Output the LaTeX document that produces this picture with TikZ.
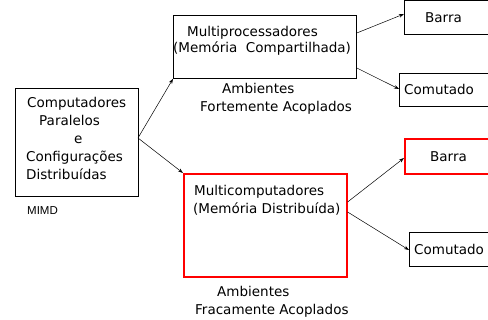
\documentclass[tikz,border=0pt]{standalone}
\usepackage{fontspec}
\setmainfont{DejaVu Sans}
\newfontfamily\arialfont{Liberation Sans}
\usetikzlibrary{arrows.meta}
\begin{document}
\begin{tikzpicture}[x=1pt,y=-1pt,
  box/.style={draw=black,line width=0.8pt,inner sep=0pt,anchor=north west},
  redbox/.style={draw=red,line width=1.6pt,inner sep=0pt,anchor=north west},
  txt/.style={font=\fontsize{13.5}{15}\selectfont,anchor=base west,inner sep=0pt},
  conn/.style={line width=0.5pt,-{Stealth[length=5pt,width=3.5pt]}}]
\useasboundingbox (0,0) rectangle (488,320);
% boxes
\node[box,minimum width=123pt,minimum height=108pt] (pc) at (15,88) {};
\node[box,minimum width=183pt,minimum height=63pt] (mp) at (173,15) {};
\node[redbox,minimum width=163pt,minimum height=103pt] (mc) at (183,173) {};
\node[box,minimum width=86pt,minimum height=34pt] (b1) at (404,0) {};
\node[box,minimum width=90pt,minimum height=33pt] (c1) at (399,73) {};
\node[redbox,minimum width=86pt,minimum height=35pt] (b2) at (404,138) {};
\node[box,minimum width=81pt,minimum height=34pt] (c2) at (409,232) {};
% texts
\node[txt] (t1) at (27,108) {Computadores};
\node[txt] (t2) at (39,126) {Paralelos};
\node[txt] (t3) at (74,144) {e};
\node[txt] (t4) at (26,162) {Configurações};
\node[txt] (t5) at (26,180) {Distribuídas};
\node[anchor=base west,inner sep=0pt,font=\arialfont\fontsize{11.5}{13}\selectfont] (mimd) at (27,215) {MIMD};
\node[txt] (t6) at (187,37) {Multiprocessadores};
\node[txt] (t7) at (173,53) {(Memória\ \ Compartilhada)};
\node[txt] (t8) at (222,94) {Ambientes};
\node[txt] (t9) at (200,112) {Fortemente Acoplados};
\node[txt] (t10) at (194,196) {Multicomputadores};
\node[txt] (t11) at (193,214) {(Memória Distribuída)};
\node[txt] (t12) at (217,297) {Ambientes};
\node[txt] (t13) at (195,315) {Fracamente Acoplados};
\node[txt] (t14) at (425,23) {Barra};
\node[txt] (t15) at (404,95) {Comutado};
\node[txt] (t16) at (430,162) {Barra};
\node[txt] (t17) at (414,255) {Comutado};
% connectors
\coordinate (o) at (138,138);
\draw[conn] (o) -- (mp.south west);
\draw[conn] (o) -- (mc.north west);
\draw[conn] ([yshift=-18pt]mp.north east) -- ([yshift=-14pt]b1.north west);
\draw[conn] ([yshift=-53pt]mp.north east) -- ([yshift=-16pt]c1.north west);
\draw[conn] ([yshift=-29pt]mc.north east) -- ([yshift=-20pt]b2.north west);
\draw[conn] ([yshift=-39pt]mc.north east) -- ([yshift=-18pt]c2.north west);
\end{tikzpicture}
\end{document}
